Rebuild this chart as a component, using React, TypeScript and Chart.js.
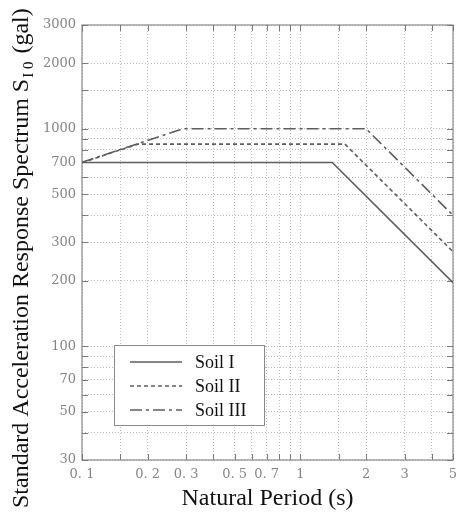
import { useEffect, useRef } from "react";
import { Chart, registerables } from "chart.js";

Chart.register(...registerables);

// Standard acceleration response spectra per soil class (period in s, S_I0 in gal)
const soilLabels = ["Soil I", "Soil II", "Soil III"];
const periodsI = [0.1, 1.4, 5];
const spectrumI = [700, 700, 196];
const periodsII = [0.1, 0.18, 1.6, 5];
const spectrumII = [699, 850, 850, 272];
const periodsIII = [0.1, 0.29, 2.0, 5];
const spectrumIII = [701, 1000, 1000, 400];

// Grid lines and labelled ticks of the log-log axes
const periodGrid = [0.1, 0.15, 0.2, 0.3, 0.4, 0.5, 0.6, 0.7, 0.8, 0.9, 1, 1.5, 2, 3, 4, 5];
const periodLabels = [0.1, 0.2, 0.3, 0.5, 0.7, 1, 2, 3, 5];
const spectrumGrid = [30, 40, 50, 60, 70, 80, 90, 100, 200, 300, 400, 500, 600, 700, 800, 900, 1000, 1500, 2000, 3000];
const spectrumLabels = [30, 50, 70, 100, 200, 300, 500, 700, 1000, 2000, 3000];

const W = 458;
const H = 513;
const LINE = "#5e5e5e";
const SERIF = '"Liberation Serif", "Times New Roman", serif';
const TICK_FONT = '"DejaVu Serif", serif';

const has = (list: number[], v: number) => list.some((p) => Math.abs(p - v) < 1e-9);
const periodText = (v: number) => (v < 1 ? "0. " + String(v).slice(2) : String(v));

const toPoints = (xs: number[], ys: number[]) => xs.map((x, i) => ({ x, y: ys[i] }));

// Keep the plot area fixed: no extra room reserved for the end tick labels
const noEdgePadding = (scale: any) => {
  scale.paddingLeft = 0;
  scale.paddingRight = 0;
  scale.paddingTop = 0;
  scale.paddingBottom = 0;
};

// Plot frame with short inward tick marks on all four sides
const framePlugin = {
  id: "frame",
  beforeDatasetsDraw(chart: any) {
    const { ctx, chartArea, scales } = chart;
    const { left, right, top, bottom } = chartArea;
    ctx.save();
    ctx.strokeStyle = "#8a8a8a";
    ctx.lineWidth = 1.2;
    ctx.strokeRect(left, top, right - left, bottom - top);
    ctx.strokeStyle = "#7a7a7a";
    ctx.lineWidth = 1;
    const t = 6;
    ctx.beginPath();
    for (const tk of scales.x.ticks) {
      const x = Math.round(scales.x.getPixelForValue(tk.value)) + 0.5;
      ctx.moveTo(x, top);
      ctx.lineTo(x, top + t);
      ctx.moveTo(x, bottom);
      ctx.lineTo(x, bottom - t);
    }
    for (const tk of scales.y.ticks) {
      const y = Math.round(scales.y.getPixelForValue(tk.value)) + 0.5;
      ctx.moveTo(left, y);
      ctx.lineTo(left + t, y);
      ctx.moveTo(right, y);
      ctx.lineTo(right - t, y);
    }
    ctx.stroke();
    ctx.restore();
  },
};

// Boxed legend inside the lower-left corner of the plot
const legendPlugin = {
  id: "boxLegend",
  afterDraw(chart: any) {
    const { ctx, chartArea } = chart;
    const bx = chartArea.left + 32;
    const by = chartArea.bottom - 115;
    const bw = 150;
    const bh = 80;
    ctx.save();
    ctx.fillStyle = "#ffffff";
    ctx.fillRect(bx, by, bw, bh);
    ctx.strokeStyle = "#8a8a8a";
    ctx.lineWidth = 1;
    ctx.strokeRect(bx + 0.5, by + 0.5, bw, bh);
    chart.data.datasets.forEach((ds: any, i: number) => {
      const y = by + 17 + i * 24;
      ctx.strokeStyle = ds.borderColor;
      ctx.lineWidth = ds.borderWidth;
      ctx.setLineDash(ds.borderDash || []);
      ctx.beginPath();
      ctx.moveTo(bx + 16, y);
      ctx.lineTo(bx + 68, y);
      ctx.stroke();
      ctx.setLineDash([]);
      ctx.fillStyle = "#111111";
      ctx.font = `18px ${SERIF}`;
      ctx.textBaseline = "middle";
      ctx.textAlign = "left";
      ctx.fillText(ds.label, bx + 81, y + 1);
    });
    ctx.restore();
  },
};

// Vertical axis title with the subscripted symbol S_I0
const yTitlePlugin = {
  id: "yTitle",
  afterDraw(chart: any) {
    const { ctx } = chart;
    ctx.save();
    ctx.translate(28, 508);
    ctx.rotate(-Math.PI / 2);
    ctx.fillStyle = "#111111";
    ctx.textBaseline = "alphabetic";
    ctx.textAlign = "left";
    const main = "Standard Acceleration Response Spectrum S";
    ctx.font = `24px ${SERIF}`;
    ctx.fillText(main, 0, 0);
    let x = ctx.measureText(main).width + 1;
    const sub = "I 0";
    ctx.font = `15px ${SERIF}`;
    ctx.fillText(sub, x, 5);
    x += ctx.measureText(sub).width + 2;
    ctx.font = `24px ${SERIF}`;
    ctx.fillText(" (gal)", x, 0);
    ctx.restore();
  },
};

export default function App() {
  const canvasRef = useRef<HTMLCanvasElement | null>(null);

  useEffect(() => {
    const canvas = canvasRef.current;
    if (!canvas) return;
    const styles = [
      { borderDash: [] as number[], borderWidth: 1.6 },
      { borderDash: [4, 3], borderWidth: 1.6 },
      { borderDash: [12, 4, 3, 4], borderWidth: 1.6 },
    ];
    const series = [
      toPoints(periodsI, spectrumI),
      toPoints(periodsII, spectrumII),
      toPoints(periodsIII, spectrumIII),
    ];
    const chart = new Chart(canvas, {
      type: "line",
      data: {
        datasets: series.map((data, i) => ({
          label: soilLabels[i],
          data,
          borderColor: LINE,
          borderWidth: styles[i].borderWidth,
          borderDash: styles[i].borderDash,
          pointRadius: 0,
          tension: 0,
          fill: false,
        })),
      },
      options: {
        animation: false,
        responsive: false,
        devicePixelRatio: 1,
        layout: { padding: { left: 0, top: 25, right: 5, bottom: 0 } },
        plugins: { legend: { display: false }, tooltip: { enabled: false } },
        scales: {
          x: {
            type: "logarithmic",
            min: 0.1,
            max: 5,
            afterBuildTicks: (scale: any) => {
              scale.ticks = periodGrid.map((value) => ({ value }));
            },
            afterFit: (scale: any) => {
              scale.height = 53;
              noEdgePadding(scale);
            },
            grid: { color: "#bdbdbd", lineWidth: 1, drawTicks: false },
            border: { display: false, dash: [1, 2] },
            ticks: {
              autoSkip: false,
              maxRotation: 0,
              minRotation: 0,
              padding: 7,
              color: "#858585",
              font: { family: TICK_FONT, size: 13 },
              callback: (v: any) => (has(periodLabels, Number(v)) ? periodText(Number(v)) : ""),
            },
            title: {
              display: true,
              text: "Natural Period (s)",
              color: "#111111",
              font: { family: SERIF, size: 24 },
              padding: { top: 0, bottom: 0 },
            },
          },
          y: {
            type: "logarithmic",
            min: 30,
            max: 3000,
            afterBuildTicks: (scale: any) => {
              scale.ticks = spectrumGrid.map((value) => ({ value }));
            },
            afterFit: (scale: any) => {
              scale.width = 82;
              noEdgePadding(scale);
            },
            grid: { color: "#bdbdbd", lineWidth: 1, drawTicks: false },
            border: { display: false, dash: [1, 2] },
            ticks: {
              autoSkip: false,
              padding: 6,
              color: "#858585",
              font: { family: TICK_FONT, size: 13 },
              callback: (v: any) => (has(spectrumLabels, Number(v)) ? String(v) : ""),
            },
          },
        },
      },
      plugins: [framePlugin, legendPlugin, yTitlePlugin],
    } as any);
    return () => chart.destroy();
  }, []);

  return (
    <div style={{ position: "absolute", left: 0, top: 0, width: W, height: H, background: "#ffffff" }}>
      <canvas ref={canvasRef} width={W} height={H} style={{ display: "block", width: W, height: H }} />
    </div>
  );
}
